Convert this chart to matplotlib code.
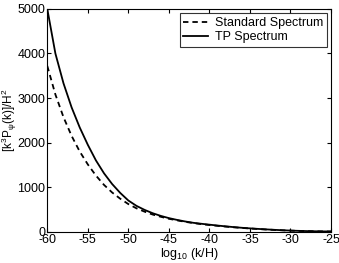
import matplotlib
matplotlib.use("Agg")
import matplotlib.pyplot as plt

plt.rcParams['font.family'] = ['Liberation Sans', 'DejaVu Sans']
plt.rcParams['mathtext.default'] = 'regular'
plt.rcParams['axes.unicode_minus'] = False

# log10(k/H)
log_k = [-60, -59, -58, -57, -56, -55, -54, -53, -52, -51, -50, -49, -48, -47,
         -46, -45, -44, -43, -42, -41, -40, -39, -38, -37, -36, -35, -34, -33,
         -32, -31, -30, -29, -28, -27, -26, -25]

# standard spectrum (dashed)
standard = [3720, 3080, 2570, 2150, 1800, 1510, 1260, 1050, 880, 740, 620, 525,
            450, 385, 335, 290, 255, 222, 194, 170, 150, 132, 115, 99, 85, 72,
            60, 49, 40, 31, 24, 18, 13, 9, 6, 4]

# TP spectrum (solid)
tp = [5000, 4000, 3330, 2790, 2340, 1950, 1600, 1310, 1070, 870, 700, 580, 490,
      415, 355, 305, 265, 230, 200, 178, 158, 138, 120, 103, 88, 75, 63, 52,
      42, 33, 25, 19, 14, 10, 7, 5]

xticks = [-60, -55, -50, -45, -40, -35, -30, -25]
yticks = [0, 1000, 2000, 3000, 4000, 5000]

fig = plt.figure(figsize=(3.39, 2.63), dpi=100)
ax = fig.add_axes([0.1395, 0.119, 0.837, 0.847])

ax.plot(log_k, standard, 'k--', lw=1.3, dashes=(3, 2.2), label='Standard Spectrum')
ax.plot(log_k, tp, 'k-', lw=1.3, label='TP Spectrum')

ax.set_xlim(-60, -25)
ax.set_ylim(0, 5000)
ax.set_xticks(xticks)
ax.set_yticks(yticks)
ax.tick_params(direction='in', top=True, right=True, labelsize=9, length=3, pad=1.5)

ax.set_xlabel("log$_{10}$ (k/H)", fontsize=9, labelpad=0)
ax.set_ylabel("[k$^3$P$_\\psi$(k)]/H$^2$", fontsize=8.5)
ax.yaxis.set_label_coords(-0.1, 0.5)

leg = ax.legend(loc='upper right', fontsize=9, frameon=True, fancybox=False,
                edgecolor='k', handlelength=2.0, borderpad=0.3, labelspacing=0.15,
                handletextpad=0.5, borderaxespad=0.35)
leg.get_frame().set_linewidth(0.8)

fig.savefig("out.png", dpi=100)
